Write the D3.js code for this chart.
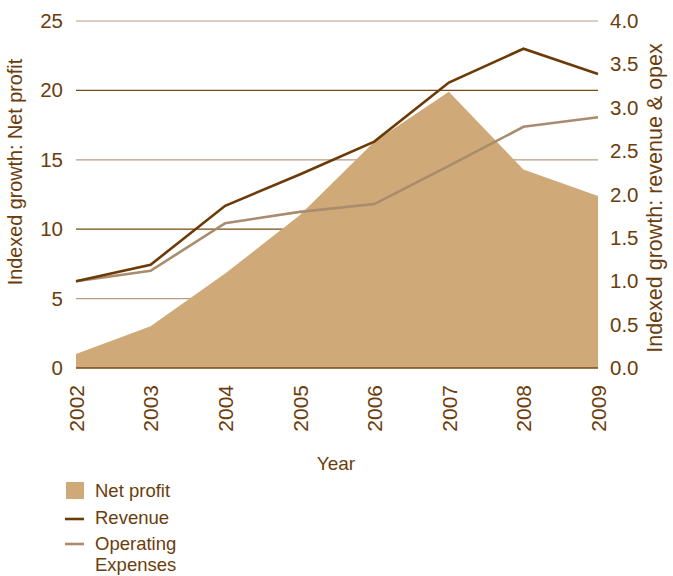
<!DOCTYPE html>
<html>
<head>
<meta charset="utf-8">
<script src="https://cdn.jsdelivr.net/npm/d3@7"></script>
<style>
  body { margin: 0; background: #fff; }
  svg { font-family: "Liberation Sans", Arial, sans-serif; }
  text { fill: #6b3d0c; }
</style>
</head>
<body>
<svg id="chart" width="673" height="576"></svg>
<script>
// chart values
var years = [2002, 2003, 2004, 2005, 2006, 2007, 2008, 2009];
var netProfit = [1.0, 3.0, 6.8, 11.0, 16.3, 19.9, 14.3, 12.4];
var revenue = [1.0, 1.19, 1.87, 2.23, 2.61, 3.29, 3.68, 3.39];
var opex = [1.0, 1.12, 1.67, 1.80, 1.89, 2.33, 2.78, 2.89];
var leftTicks = [0, 5, 10, 15, 20, 25];
var rightTicks = [0, 0.5, 1, 1.5, 2, 2.5, 3, 3.5, 4];

var brown = "#6b3d0c";
var areaFill = "#cfa978";
var revColor = "#6b3a06";
var opexColor = "#a98b6d";
var gridDark = "#7a4a14";
var gridLight = "#b39d84";

var margin = { top: 21, right: 75, bottom: 208, left: 76 };
var width = 673, height = 576;

var svg = d3.select("#chart");

var x = d3.scaleLinear()
    .domain([2002, 2009])
    .range([margin.left, width - margin.right]);

var yLeft = d3.scaleLinear()
    .domain([0, 25])
    .range([height - margin.bottom, margin.top]);

var yRight = d3.scaleLinear()
    .domain([0, 4])
    .range([height - margin.bottom, margin.top]);

// gridlines (alternating dark / light)
svg.append("g")
    .selectAll("line")
    .data(leftTicks.filter(function(d) { return d > 0; }))
    .enter()
    .append("line")
    .attr("x1", x(2002))
    .attr("x2", x(2009))
    .attr("y1", function(d) { return yLeft(d); })
    .attr("y2", function(d) { return yLeft(d); })
    .attr("stroke", function(d) { return (d % 10 === 0) ? gridDark : gridLight; })
    .attr("stroke-width", 1.2);

// net profit area
var area = d3.area()
    .x(function(d, i) { return x(years[i]); })
    .y0(yLeft(0))
    .y1(function(d) { return yLeft(d); });

svg.append("path")
    .datum(netProfit)
    .attr("d", area)
    .attr("fill", areaFill);

// zero line
svg.append("line")
    .attr("x1", x(2002))
    .attr("x2", x(2009))
    .attr("y1", yLeft(0))
    .attr("y2", yLeft(0))
    .attr("stroke", gridDark)
    .attr("stroke-width", 1.5);

// lines
var line = d3.line()
    .x(function(d, i) { return x(years[i]); })
    .y(function(d) { return yRight(d); });

svg.append("path")
    .datum(opex)
    .attr("d", line)
    .attr("fill", "none")
    .attr("stroke", opexColor)
    .attr("stroke-width", 2.6);

svg.append("path")
    .datum(revenue)
    .attr("d", line)
    .attr("fill", "none")
    .attr("stroke", revColor)
    .attr("stroke-width", 2.6);

// left axis
var leftAxis = d3.axisLeft(yLeft)
    .tickValues(leftTicks)
    .tickSize(0)
    .tickPadding(13);

var gl = svg.append("g")
    .attr("transform", "translate(" + margin.left + ",0)")
    .call(leftAxis);
gl.select(".domain").remove();
gl.selectAll("text")
    .attr("fill", brown)
    .style("font-size", "20.5px");

// right axis
var rightAxis = d3.axisRight(yRight)
    .tickValues(rightTicks)
    .tickFormat(d3.format(".1f"))
    .tickSize(0)
    .tickPadding(12);

var gr = svg.append("g")
    .attr("transform", "translate(" + (width - margin.right) + ",0)")
    .call(rightAxis);
gr.select(".domain").remove();
gr.selectAll("text")
    .attr("fill", brown)
    .style("font-size", "20.5px");

// x axis
var xAxis = d3.axisBottom(x)
    .tickValues(years)
    .tickFormat(d3.format("d"))
    .tickSize(0);

var gx = svg.append("g")
    .attr("transform", "translate(0," + yLeft(0) + ")")
    .call(xAxis);
gx.select(".domain").remove();
gx.selectAll("text")
    .attr("fill", brown)
    .style("font-size", "21px")
    .attr("transform", "rotate(-90)")
    .attr("text-anchor", "end")
    .attr("x", -17)
    .attr("y", 0)
    .attr("dy", "0.35em");

// axis titles
svg.append("text")
    .attr("transform", "translate(22,172) rotate(-90)")
    .attr("text-anchor", "middle")
    .style("font-size", "19.8px")
    .text("Indexed growth: Net profit");

svg.append("text")
    .attr("transform", "translate(662,198) rotate(-90)")
    .attr("text-anchor", "middle")
    .style("font-size", "21.5px")
    .text("Indexed growth: revenue & opex");

svg.append("text")
    .attr("x", 336)
    .attr("y", 470)
    .attr("text-anchor", "middle")
    .style("font-size", "19px")
    .text("Year");

// legend
var legend = svg.append("g");
legend.append("rect")
    .attr("x", 66).attr("y", 482)
    .attr("width", 18).attr("height", 17)
    .attr("fill", areaFill);
legend.append("text")
    .attr("x", 95).attr("y", 497)
    .style("font-size", "18.5px")
    .text("Net profit");

legend.append("line")
    .attr("x1", 65).attr("x2", 84)
    .attr("y1", 519).attr("y2", 519)
    .attr("stroke", revColor).attr("stroke-width", 2.6);
legend.append("text")
    .attr("x", 95).attr("y", 524)
    .style("font-size", "18.5px")
    .text("Revenue");

legend.append("line")
    .attr("x1", 65).attr("x2", 84)
    .attr("y1", 544).attr("y2", 544)
    .attr("stroke", opexColor).attr("stroke-width", 2.6);
legend.append("text")
    .attr("x", 95).attr("y", 550)
    .style("font-size", "18.5px")
    .text("Operating");
legend.append("text")
    .attr("x", 95).attr("y", 571)
    .style("font-size", "18.5px")
    .text("Expenses");
</script>
</body>
</html>
